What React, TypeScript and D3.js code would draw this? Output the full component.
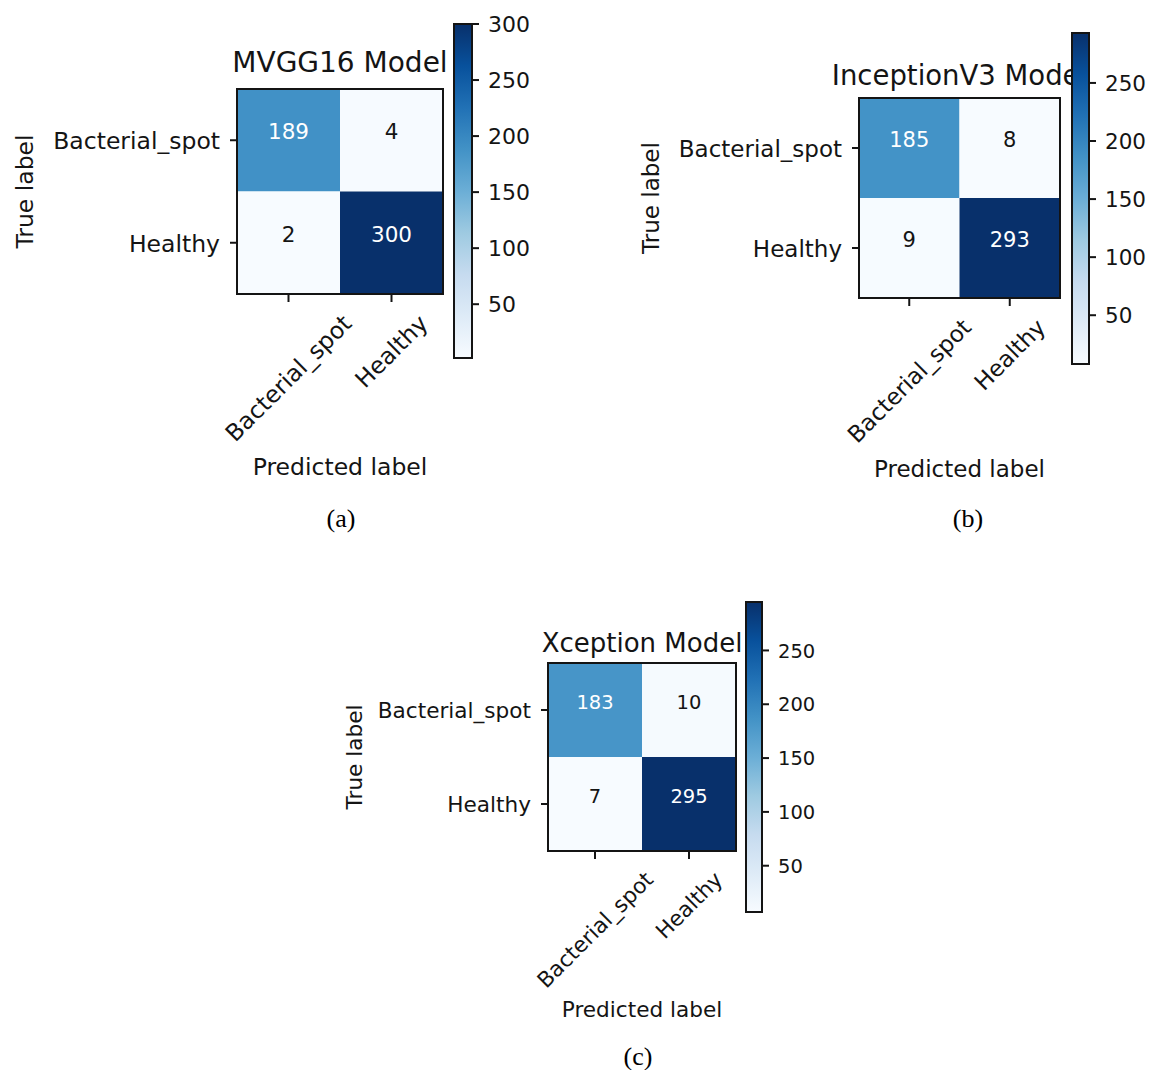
import React, { useEffect, useRef } from "react";
import * as d3 from "d3";

const CLASS_LABELS = ["Bacterial_spot", "Healthy"];
const PANEL_TITLES = ["MVGG16 Model", "InceptionV3 Model", "Xception Model"];
const PANEL_CAPTIONS = ["(a)", "(b)", "(c)"];
const MVGG16_MATRIX = [
  [189, 4],
  [2, 300],
];
const INCEPTIONV3_MATRIX = [
  [185, 8],
  [9, 293],
];
const XCEPTION_MATRIX = [
  [183, 10],
  [7, 295],
];
const MATRICES = [MVGG16_MATRIX, INCEPTIONV3_MATRIX, XCEPTION_MATRIX];
const COLORBAR_TICKS = [50, 100, 150, 200, 250, 300];
const BLUES = ["#f7fbff", "#deebf7", "#c6dbef", "#9ecae1", "#6baed6", "#4292c6", "#2171b5", "#08519c", "#08306b"];
const X_AXIS_LABEL = "Predicted label";
const Y_AXIS_LABEL = "True label";

const LAYOUTS = [
  { mx0: 237, mx1: 443, my0: 89, my1: 294, cx0: 454, cx1: 472, cy0: 24, cy1: 358, titleY: 72, titleFs: 28, tickFs: 23.5, cellFs: 21.5, cbarFs: 22, labelFs: 23.5, yLabelX: 25, xLabelY: 475, captionX: 341, captionY: 527 },
  { mx0: 859, mx1: 1060, my0: 98, my1: 298, cx0: 1072, cx1: 1089, cy0: 33, cy1: 364, titleY: 85, titleFs: 27.5, tickFs: 23, cellFs: 21, cbarFs: 21.5, labelFs: 23, yLabelX: 651, xLabelY: 477, captionX: 968, captionY: 527 },
  { mx0: 548, mx1: 736, my0: 663, my1: 851, cx0: 746, cx1: 762, cy0: 602, cy1: 912, titleY: 652, titleFs: 26, tickFs: 21.6, cellFs: 19.5, cbarFs: 19.5, labelFs: 21.6, yLabelX: 354, xLabelY: 1017, captionX: 638, captionY: 1065 },
];

const FONT = "DejaVu Sans";
const INK = "#141414";

export default function App() {
  const ref = useRef<SVGSVGElement | null>(null);

  useEffect(() => {
    const svg = d3.select(ref.current);
    svg.selectAll("*").remove();
    svg.append("rect").attr("width", 1160).attr("height", 1070).attr("fill", "#fff");
    const defs = svg.append("defs");

    MATRICES.forEach((matrix, p) => {
      const L = LAYOUTS[p];
      const g = svg.append("g");
      const flat = matrix.flat();
      const [vmin, vmax] = d3.extent(flat) as [number, number];
      const color = d3
        .scaleLinear<string>()
        .domain(BLUES.map((_, i) => vmin + (i * (vmax - vmin)) / (BLUES.length - 1)))
        .range(BLUES)
        .interpolate(d3.interpolateRgb);
      const x = d3.scaleBand<number>().domain(d3.range(CLASS_LABELS.length)).range([L.mx0, L.mx1]);
      const y = d3.scaleBand<number>().domain(d3.range(CLASS_LABELS.length)).range([L.my0, L.my1]);
      const thresh = vmax / 2;

      // title (drawn first so the colorbar can overlap it)
      g.append("text")
        .attr("x", (L.mx0 + L.mx1) / 2)
        .attr("y", L.titleY)
        .attr("text-anchor", "middle")
        .attr("font-family", FONT)
        .attr("font-size", L.titleFs)
        .attr("fill", INK)
        .text(PANEL_TITLES[p]);

      // cells
      matrix.forEach((row, i) => {
        row.forEach((v, j) => {
          g.append("rect")
            .attr("x", x(j)!)
            .attr("y", y(i)!)
            .attr("width", x.bandwidth())
            .attr("height", y.bandwidth())
            .attr("fill", color(v));
          g.append("text")
            .attr("x", x(j)! + x.bandwidth() / 2)
            .attr("y", y(i)! + y.bandwidth() / 2 - 1)
            .attr("text-anchor", "middle")
            .attr("font-family", FONT)
            .attr("font-size", L.cellFs)
            .attr("fill", v > thresh ? "#ffffff" : INK)
            .text(String(v));
        });
      });
      g.append("rect")
        .attr("x", L.mx0)
        .attr("y", L.my0)
        .attr("width", L.mx1 - L.mx0)
        .attr("height", L.my1 - L.my0)
        .attr("fill", "none")
        .attr("stroke", INK)
        .attr("stroke-width", 2);

      // y ticks
      CLASS_LABELS.forEach((lab, i) => {
        const ty = y(i)! + y.bandwidth() / 2;
        g.append("line")
          .attr("x1", L.mx0 - 7)
          .attr("x2", L.mx0)
          .attr("y1", ty)
          .attr("y2", ty)
          .attr("stroke", INK)
          .attr("stroke-width", 2);
        g.append("text")
          .attr("x", L.mx0 - 17)
          .attr("y", ty + 0.38 * L.tickFs)
          .attr("text-anchor", "end")
          .attr("font-family", FONT)
          .attr("font-size", L.tickFs)
          .attr("fill", INK)
          .text(lab);
      });

      // x ticks
      CLASS_LABELS.forEach((lab, j) => {
        const tx = x(j)! + x.bandwidth() / 2;
        g.append("line")
          .attr("x1", tx)
          .attr("x2", tx)
          .attr("y1", L.my1)
          .attr("y2", L.my1 + 8)
          .attr("stroke", INK)
          .attr("stroke-width", 2);
        const t = g
          .append("text")
          .attr("x", 0)
          .attr("y", 0)
          .attr("text-anchor", "middle")
          .attr("dominant-baseline", "central")
          .attr("font-family", FONT)
          .attr("font-size", L.tickFs)
          .attr("fill", INK)
          .text(lab);
        const len = (t.node() as SVGTextElement).getComputedTextLength();
        const half = ((len + L.tickFs) * Math.SQRT1_2) / 2;
        t.attr("transform", `translate(${tx},${L.my1 + 17 + half}) rotate(-45)`);
      });

      // axis labels
      g.append("text")
        .attr("x", (L.mx0 + L.mx1) / 2)
        .attr("y", L.xLabelY)
        .attr("text-anchor", "middle")
        .attr("font-family", FONT)
        .attr("font-size", L.labelFs)
        .attr("fill", INK)
        .text(X_AXIS_LABEL);
      g.append("text")
        .attr("transform", `translate(${L.yLabelX},${(L.my0 + L.my1) / 2}) rotate(-90)`)
        .attr("text-anchor", "middle")
        .attr("dominant-baseline", "central")
        .attr("font-family", FONT)
        .attr("font-size", L.labelFs)
        .attr("fill", INK)
        .text(Y_AXIS_LABEL);

      // colorbar
      const gid = `cbar-grad-${p}`;
      const grad = defs
        .append("linearGradient")
        .attr("id", gid)
        .attr("x1", 0)
        .attr("y1", 1)
        .attr("x2", 0)
        .attr("y2", 0);
      BLUES.forEach((c, i) => {
        grad
          .append("stop")
          .attr("offset", i / (BLUES.length - 1))
          .attr("stop-color", c);
      });
      const cs = d3.scaleLinear().domain([vmin, vmax]).range([L.cy1, L.cy0]);
      g.append("rect")
        .attr("x", L.cx0)
        .attr("y", L.cy0)
        .attr("width", L.cx1 - L.cx0)
        .attr("height", L.cy1 - L.cy0)
        .attr("fill", `url(#${gid})`)
        .attr("stroke", INK)
        .attr("stroke-width", 2);
      COLORBAR_TICKS.filter((t) => t >= vmin && t <= vmax).forEach((t) => {
        const ty = cs(t);
        g.append("line")
          .attr("x1", L.cx1)
          .attr("x2", L.cx1 + 7)
          .attr("y1", ty)
          .attr("y2", ty)
          .attr("stroke", INK)
          .attr("stroke-width", 2);
        g.append("text")
          .attr("x", L.cx1 + 16)
          .attr("y", ty + 0.37 * L.cbarFs)
          .attr("font-family", FONT)
          .attr("font-size", L.cbarFs)
          .attr("fill", INK)
          .text(String(t));
      });

      // caption
      svg
        .append("text")
        .attr("x", L.captionX)
        .attr("y", L.captionY)
        .attr("text-anchor", "middle")
        .attr("font-family", "Liberation Serif")
        .attr("font-size", 26)
        .attr("fill", "#000")
        .text(PANEL_CAPTIONS[p]);
    });
  }, []);

  return (
    <svg
      ref={ref}
      width={1160}
      height={1070}
      style={{ position: "absolute", left: 0, top: 0, display: "block" }}
    />
  );
}
